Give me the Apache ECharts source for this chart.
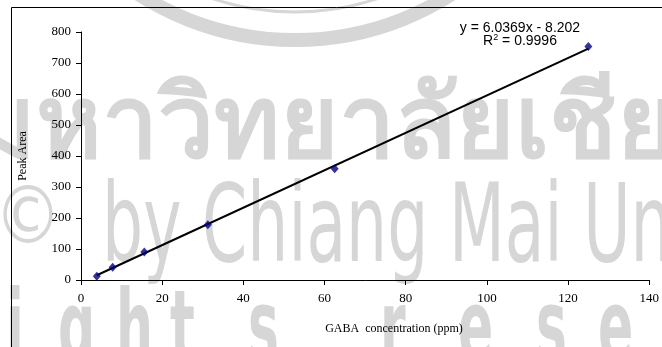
<!DOCTYPE html>
<html>
<head>
<meta charset="utf-8">
<script src="https://cdn.jsdelivr.net/npm/echarts@6/dist/echarts.min.js"></script>
<style>
  html, body { margin: 0; padding: 0; background: #fff; }
  #chart { width: 662px; height: 347px; }
</style>
</head>
<body>
<div id="chart"></div>
<script>
// standards: GABA concentration (ppm) vs peak area
const CONC = [3.9, 7.8, 15.6, 31.25, 62.5, 125];
const PEAK = [12, 41, 90, 178, 359, 753];

// linear fit printed on the chart
const SLOPE = 6.0369;
const INTERCEPT = -8.202;
const R2 = '0.9996';
const FIT_RANGE = [3.9, 125];

const X_TICKS = [0, 20, 40, 60, 80, 100, 120, 140];
const Y_TICKS = [0, 100, 200, 300, 400, 500, 600, 700, 800];

const WM = '#d6d6d6';
const SERIF = '"Liberation Serif", "Times New Roman", serif';
const SANS = '"Liberation Sans", Arial, sans-serif';

const chart = echarts.init(document.getElementById('chart'));

// scanned page watermark (background only)
const wmLetters = [
  ['i', 6], ['g', 58], ['h', 116], ['t', 170], ['s', 248],
  ['r', 380], ['e', 458], ['s', 536], ['e', 598],
];

const watermark = [
  {
    type: 'arc', z: 0, silent: true,
    shape: { cx: 295, cy: -250, r: 290, startAngle: 0, endAngle: Math.PI },
    style: { stroke: WM, lineWidth: 14, fill: null },
  },
  {
    type: 'arc', z: 0, silent: true,
    shape: { cx: 295, cy: -250, r: 262, startAngle: 0, endAngle: Math.PI },
    style: { stroke: WM, lineWidth: 3, fill: null },
  },
  {
    type: 'text', z: 0, silent: true, x: -30, y: 179, scaleX: 1.0,
    style: { text: 'มหาวิทยาลัยเชียงใหม่', fill: WM, font: 'bold 100px "Noto Sans", "DejaVu Sans", sans-serif', textVerticalAlign: 'bottom' },
  },
  {
    type: 'text', z: 0, silent: true, x: -6, y: 222, scaleX: 0.85,
    style: { text: '©', fill: WM, font: '80px "DejaVu Sans", sans-serif', textVerticalAlign: 'middle' },
  },
  {
    type: 'text', z: 0, silent: true, x: 102, y: 233, scaleX: 0.6,
    style: { text: 'by Chiang Mai University', fill: WM, font: '108px "DejaVu Sans", sans-serif', textVerticalAlign: 'middle' },
  },
].concat(wmLetters.map(([ch, x]) => ({
  type: 'text', z: 0, silent: true, x: x, y: 335, scaleX: 0.52,
  style: { text: ch, fill: WM, font: 'bold 100px "DejaVu Sans", sans-serif', textVerticalAlign: 'middle' },
})));

const option = {
  animation: false,
  backgroundColor: '#fff',
  grid: {
    left: 81,
    right: 10,
    top: 32,
    bottom: 67,
  },
  xAxis: {
    type: 'value',
    min: X_TICKS[0],
    max: X_TICKS[X_TICKS.length - 1],
    interval: 20,
    axisLine: { onZero: false, lineStyle: { color: '#000', width: 1 } },
    axisTick: { length: 5, lineStyle: { color: '#000' } },
    splitLine: { show: false },
    axisLabel: { color: '#000', fontFamily: SERIF, fontSize: 13, margin: 12 },
  },
  yAxis: {
    type: 'value',
    min: Y_TICKS[0],
    max: Y_TICKS[Y_TICKS.length - 1],
    interval: 100,
    name: 'Peak Area',
    nameLocation: 'middle',
    nameRotate: 90,
    nameGap: 52,
    nameTextStyle: { color: '#000', fontFamily: SERIF, fontSize: 12 },
    axisLine: { show: true, lineStyle: { color: '#000', width: 1 } },
    axisTick: { show: true, length: 5, lineStyle: { color: '#000' } },
    splitLine: { show: false },
    axisLabel: { color: '#000', fontFamily: SERIF, fontSize: 13, margin: 10 },
  },
  graphic: watermark.concat([
    {
      type: 'polyline', z: 10, silent: true,
      shape: { points: [[11.5, 347], [11.5, 7.5], [662, 7.5]] },
      style: { stroke: '#000', lineWidth: 1, fill: null },
    },
    {
      type: 'text', z: 10, silent: true, x: 394, y: 329,
      style: {
        text: 'GABA  concentration (ppm)', fill: '#000', font: '12px ' + SERIF,
        textAlign: 'center', textVerticalAlign: 'middle',
      },
    },
    {
      type: 'text', z: 10, silent: true, x: 520, y: 28,
      style: {
        text: 'y = ' + SLOPE + 'x - ' + Math.abs(INTERCEPT), fill: '#000', font: '14px ' + SANS,
        textAlign: 'center', textVerticalAlign: 'middle',
      },
    },
    {
      type: 'text', z: 10, silent: true, x: 520, y: 41,
      style: {
        text: '{n|R}{s|2}{n| = ' + R2 + '}', textAlign: 'center', textVerticalAlign: 'middle',
        rich: {
          n: { fontFamily: SANS, fontSize: 14, fill: '#000', color: '#000' },
          s: { fontFamily: SANS, fontSize: 9, fill: '#000', color: '#000', verticalAlign: 'top', padding: [0, 0, 6, 0] },
        },
      },
    },
  ]),
  series: [
    {
      name: 'fit',
      type: 'line',
      data: FIT_RANGE.map((x) => [x, SLOPE * x + INTERCEPT]),
      showSymbol: false,
      lineStyle: { color: '#000', width: 2 },
      z: 3,
    },
    {
      name: 'standards',
      type: 'scatter',
      data: CONC.map((x, i) => [x, PEAK[i]]),
      symbol: 'diamond',
      symbolSize: [8, 9],
      itemStyle: { color: '#000080' },
      z: 4,
    },
  ],
};

chart.setOption(option);
</script>
</body>
</html>
